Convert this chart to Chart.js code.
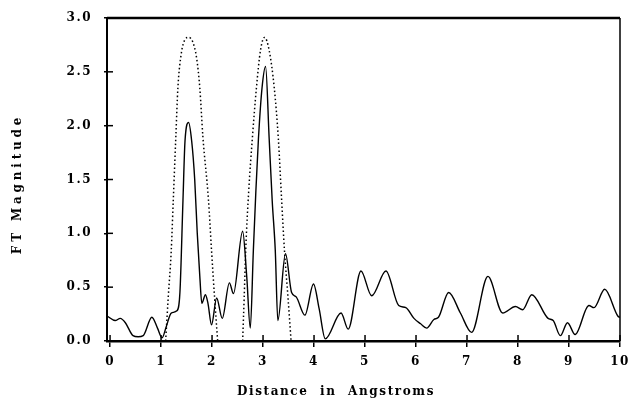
<!doctype html>
<html>
<head>
    <title>FT Magnitude</title>
    <script src="https://cdn.jsdelivr.net/npm/chart.js"></script>
    <style>
        html, body { margin: 0; padding: 0; background: #fff; }
        #wrap { width: 628px; height: 399px; }
    </style>
</head>
<body>
<div id="wrap"><canvas id="ftChart"></canvas></div>
<script>
// axis texts
const X_TITLE = 'Distance  in  Angstroms';
const Y_TITLE = 'FT Magnitude';
const X_TICKS = [0, 1, 2, 3, 4, 5, 6, 7, 8, 9, 10];
const Y_TICKS = [0.0, 0.5, 1.0, 1.5, 2.0, 2.5, 3.0];

// solid curve: Fourier transform magnitude
const ftDistance = [-0.05, 0.1, 0.2, 0.3, 0.45, 0.55, 0.65, 0.82, 0.93, 1.02, 1.1, 1.2, 1.31,
    1.37, 1.43, 1.47, 1.54, 1.60, 1.66, 1.71, 1.76, 1.80, 1.87, 1.92, 1.99, 2.09, 2.20, 2.34, 2.42,
    2.60, 2.68, 2.75, 2.81, 2.86, 2.91, 2.98, 3.05, 3.12, 3.18, 3.24, 3.29, 3.44, 3.56, 3.65, 3.82,
    3.99, 4.10, 4.22, 4.53, 4.67, 4.92, 5.13, 5.41, 5.66, 5.80, 5.96, 6.09, 6.21, 6.35, 6.44, 6.64,
    6.87, 7.09, 7.41, 7.70, 7.95, 8.09, 8.27, 8.59, 8.69, 8.83, 8.97, 9.12, 9.39, 9.49, 9.70, 9.96, 10.0];
const ftMagnitude = [0.23, 0.19, 0.21, 0.17, 0.05, 0.04, 0.05, 0.22, 0.12, 0.03, 0.13, 0.26, 0.28,
    0.45, 1.31, 1.86, 2.03, 1.86, 1.5, 1.0, 0.6, 0.35, 0.43, 0.35, 0.15, 0.40, 0.21, 0.54, 0.44,
    1.02, 0.6, 0.12, 0.84, 1.4, 1.88, 2.35, 2.55, 1.88, 1.3, 0.84, 0.19, 0.81, 0.45, 0.41, 0.24,
    0.53, 0.3, 0.02, 0.26, 0.11, 0.65, 0.42, 0.65, 0.33, 0.31, 0.21, 0.16, 0.12, 0.20, 0.22, 0.45,
    0.26, 0.08, 0.60, 0.26, 0.32, 0.29, 0.43, 0.21, 0.19, 0.05, 0.17, 0.06, 0.33, 0.31, 0.48, 0.23, 0.22];

// dotted curves: the two filter windows
const window1Distance = [1.09, 1.14, 1.20, 1.24, 1.29, 1.33, 1.40, 1.47, 1.54, 1.62, 1.70, 1.76, 1.82, 1.93, 1.99, 2.05, 2.11];
const window1Magnitude = [0, 0.4, 0.84, 1.31, 1.9, 2.35, 2.68, 2.8, 2.82, 2.78, 2.62, 2.35, 1.9, 1.31, 0.84, 0.4, 0];
const window2Distance = [2.60, 2.63, 2.66, 2.72, 2.79, 2.87, 2.95, 3.03, 3.12, 3.22, 3.30, 3.36, 3.42, 3.49, 3.55];
const window2Magnitude = [0, 0.4, 0.84, 1.4, 1.88, 2.35, 2.7, 2.82, 2.7, 2.35, 1.88, 1.35, 0.84, 0.4, 0];

function pts(xs, ys) {
    return xs.map((x, i) => ({ x: x, y: ys[i] }));
}

const FONT = 'DejaVu Serif';

// frame, inner tick marks and axis titles
const framePlugin = {
    id: 'frame',
    beforeDraw(chart) {
        chart.ctx.letterSpacing = '1.5px';
    },
    afterDraw(chart) {
        const ctx = chart.ctx;
        const a = chart.chartArea;
        const xs = chart.scales.x, ys = chart.scales.y;
        ctx.save();
        ctx.strokeStyle = '#000';
        // top and right edges
        ctx.lineWidth = 2.5;
        ctx.beginPath();
        ctx.moveTo(a.left, a.top);
        ctx.lineTo(a.right, a.top);
        ctx.stroke();
        ctx.lineWidth = 1.5;
        ctx.beginPath();
        ctx.moveTo(a.right, a.top);
        ctx.lineTo(a.right, a.bottom);
        ctx.stroke();
        // inner part of tick marks
        ctx.lineWidth = 1.5;
        X_TICKS.forEach(v => {
            const px = xs.getPixelForValue(v);
            ctx.beginPath();
            ctx.moveTo(px, a.bottom);
            ctx.lineTo(px, a.bottom - 6);
            ctx.stroke();
        });
        Y_TICKS.forEach(v => {
            const py = ys.getPixelForValue(v);
            ctx.beginPath();
            ctx.moveTo(a.left, py);
            ctx.lineTo(a.left + 6, py);
            ctx.stroke();
        });
        // axis titles
        ctx.fillStyle = '#000';
        ctx.font = 'bold 12px "' + FONT + '"';
        ctx.letterSpacing = '1.6px';
        ctx.textAlign = 'center';
        ctx.textBaseline = 'alphabetic';
        ctx.fillText(X_TITLE, 336, 395);
        ctx.letterSpacing = '3.8px';
        ctx.translate(21, 184);
        ctx.rotate(-Math.PI / 2);
        ctx.fillText(Y_TITLE, 0, 0);
        ctx.restore();
    }
};

new Chart(document.getElementById('ftChart').getContext('2d'), {
    type: 'line',
    data: {
        datasets: [
            {
                label: 'FT',
                data: pts(ftDistance, ftMagnitude),
                borderColor: '#000',
                borderWidth: 1.4,
                pointRadius: 0,
                cubicInterpolationMode: 'monotone',
                fill: false
            },
            {
                label: 'Window 1',
                data: pts(window1Distance, window1Magnitude),
                borderColor: '#000',
                borderWidth: 1.5,
                borderDash: [1.5, 2.5],
                pointRadius: 0,
                cubicInterpolationMode: 'monotone',
                fill: false
            },
            {
                label: 'Window 2',
                data: pts(window2Distance, window2Magnitude),
                borderColor: '#000',
                borderWidth: 1.5,
                borderDash: [1.5, 2.5],
                pointRadius: 0,
                cubicInterpolationMode: 'monotone',
                fill: false
            }
        ]
    },
    options: {
        responsive: true,
        maintainAspectRatio: false,
        animation: false,
        events: [],
        layout: { padding: { left: 0, right: 8, top: 18, bottom: 0 } },
        plugins: {
            legend: { display: false },
            tooltip: { enabled: false }
        },
        scales: {
            x: {
                type: 'linear',
                min: -0.06,
                max: 10,
                afterFit: s => { s.height = 58; s.paddingLeft = 0; s.paddingRight = 0; },
                afterBuildTicks: s => { s.ticks = X_TICKS.map(v => ({ value: v })); },
                grid: { drawOnChartArea: false, color: '#000', lineWidth: 1.5, tickLength: 6 },
                border: { color: '#000', width: 2.5 },
                ticks: {
                    color: '#000',
                    padding: 8,
                    maxRotation: 0,
                    font: { family: FONT, size: 12, weight: 'bold' },
                    callback: v => String(v)
                }
            },
            y: {
                min: 0,
                max: 3,
                afterFit: s => { s.width = 107; s.paddingTop = 0; s.paddingBottom = 0; },
                afterBuildTicks: s => { s.ticks = Y_TICKS.map(v => ({ value: v })); },
                grid: { drawOnChartArea: false, color: '#000', lineWidth: 1.5, tickLength: 3 },
                border: { color: '#000', width: 2 },
                ticks: {
                    color: '#000',
                    padding: 12,
                    font: { family: FONT, size: 12, weight: 'bold' },
                    callback: v => v.toFixed(1)
                }
            }
        }
    },
    plugins: [framePlugin]
});
</script>
</body>
</html>
